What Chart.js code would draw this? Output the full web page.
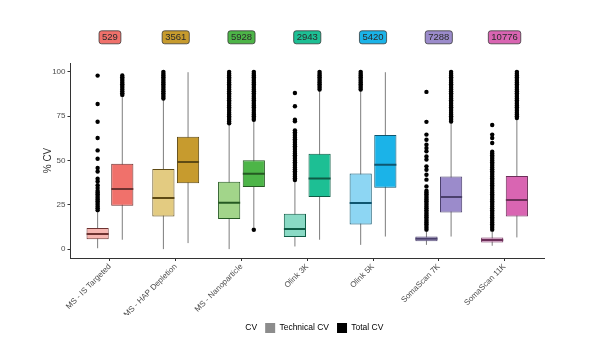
<!DOCTYPE html>
<html>
<head>
<meta charset="utf-8">
<script src="https://cdn.jsdelivr.net/npm/chart.js@4/dist/chart.umd.min.js"></script>
<style>
  html, body { margin: 0; padding: 0; background: #ffffff; }
  #wrap { width: 600px; height: 353px; }
</style>
</head>
<body>
<div id="wrap"><canvas id="c" width="600" height="353"></canvas></div>
<script>
// ---------------- data ----------------
const categories = ["MS - IS Targeted", "MS - HAP Depletion", "MS - Nanoparticle", "Olink 3K", "Olink 5K", "SomaScan 7K", "SomaScan 11K"];
const counts = [529, 3561, 5928, 2943, 5420, 7288, 10776];
const yTicks = [0, 25, 50, 75, 100];

// Technical CV box stats
const techLow  = [0.5, 0, 0, 1.5, 2.4, 2.4, 1.9];
const techQ1   = [5.6, 18.4, 17, 6.9, 13.9, 4.5, 3.7];
const techMed  = [8.6, 28.8, 26.2, 11.3, 26, 5.8, 5.1];
const techQ3   = [11.9, 45.2, 38, 19.9, 42.7, 7.1, 6.6];
const techHigh = [21, 84.4, 70.2, 38.2, 89.6, 11, 11];

// Total CV box stats
const totalLow  = [5.3, 3.4, 12.3, 5.3, 7.1, 7.1, 6.6];
const totalQ1   = [24.5, 37.1, 35, 29.4, 34.6, 20.7, 18.4];
const totalMed  = [33.9, 49.2, 42.5, 39.9, 47.6, 29.4, 27.7];
const totalQ3   = [48.2, 63.4, 50.1, 53.8, 64.4, 41, 41.2];
const totalHigh = [86.2, 99.8, 72.1, 89.6, 99.8, 71.2, 73.4];

// Outliers
const techOut = [
  [22,23,24,25,26,27,28,29,30,31,32,33,34.5,36,38.2,39.7,43.8,45.8,51,55.7,62.7,71.9,81.9,97.9],
  [85,86,87,88,89,90,91,92,93,94,95,96,97,98,99,100],
  [71,72,73,74,75,76,77,78,79,80,81,82,83,84,85,86,87,88,89,90,91,92,93,94,95,96,97,98,99,100],
  [39,40,41,42,43,44,45,46,47,48,49,50,51,52,53,54,55,56,57,58,59,60,61,62,63,64,65,66,67,72.1,73,80.6,88.1],
  [90,91,92,93,94,95,96,97,98,99,100],
  [11,12,13,14,15,16,17,18,19,20,21,22,23,24,25,26,27,28,29,30,31,32,33,35.4,39.2,42,44.8,46.7,50.5,52.3,55.2,57,58.9,61.7,64.6,71.8,88.7],
  [11,12,13,14,15,16,17,18,19,20,21,22,23,24,25,26,27,28,29,30,31,32,33,34,35,36,37,38,39,40,41,42,43,44,45,46,47,48,49,50,51,52,53,54,55,59.9,62.7,64.6,70]
];
const totalOut = [
  [87,88,89,90,91,92,93,94,95,96,97,98],
  [],
  [10.9,73,74,75,76,77,78,79,80,81,82,83,84,85,86,87,88,89,90,91,92,93,94,95,96,97,98,99,100],
  [90,91,92,93,94,95,96,97,98,99,100],
  [],
  [72,73,74,75,76,77,78,79,80,81,82,83,84,85,86,87,88,89,90,91,92,93,94,95,96,97,98,99,100],
  [74,75,76,77,78,79,80,81,82,83,84,85,86,87,88,89,90,91,92,93,94,95,96,97,98,99,100]
];

// ---------------- styles ----------------
const totalColors = ['#F0716B', '#C79B2E', '#4DB548', '#1DBF94', '#1BB3E8', '#9B8BCB', '#D965B2'];
const techColors  = ['#F6B6B1', '#E3CB81', '#A2D58A', '#8ADAC5', '#8DD6F3', '#B9AFD6', '#E3A9D1'];
const darkColors  = ['#6e3331', '#5e4a14', '#255a22', '#0f5c46', '#0e5670', '#4b406c', '#6c2f59'];

const CAT_PCT = 0.75, BAR_PCT = 0.9;
const dodge = CAT_PCT / 4;           // centre offset of each dodged box (in category units)
const FONT = '"Liberation Sans", Arial, Helvetica, sans-serif';

function boxData(q1, q3) { return categories.map((c, i) => ({ x: i + 1, y: [q1[i], q3[i]] })); }
function whiskerData(lo, hi, off) {
  const out = [];
  categories.forEach((c, i) => {
    out.push({ x: i + 1 + off, y: lo[i] }, { x: i + 1 + off, y: hi[i] }, { x: i + 1 + off, y: null });
  });
  return out;
}
function pointData(vals, off) { return categories.map((c, i) => ({ x: i + 1 + off, y: vals[i] })); }
function outlierData(lists, off) {
  const out = [];
  lists.forEach((arr, i) => arr.forEach(v => out.push({ x: i + 1 + off, y: v })));
  return out;
}

// count labels above each category
const countLabels = {
  id: 'countLabels',
  afterDraw(chart) {
    const { ctx, scales: { x } } = chart;
    ctx.save();
    ctx.font = '9.5px ' + FONT;
    ctx.textAlign = 'center';
    ctx.textBaseline = 'middle';
    counts.forEach((n, i) => {
      const cx = x.getPixelForValue(i + 1), cy = 37.3;
      const t = String(n);
      const w = ctx.measureText(t).width + 6, h = 13;
      ctx.beginPath();
      ctx.roundRect(cx - w / 2, cy - h / 2, w, h, 2.5);
      ctx.fillStyle = totalColors[i];
      ctx.fill();
      ctx.strokeStyle = 'rgba(50,50,50,0.75)';
      ctx.lineWidth = 1;
      ctx.stroke();
      ctx.fillStyle = '#2a2a2a';
      ctx.fillText(t, cx, cy + 0.5);
    });
    ctx.restore();
  }
};

const ctx = document.getElementById('c').getContext('2d');
new Chart(ctx, {
  type: 'bar',
  data: {
    datasets: [
      { type: 'line', label: 'tw', data: whiskerData(techLow, techHigh, -dodge), borderColor: '#7d7d7d', borderWidth: 1, pointRadius: 0, spanGaps: false, order: 5 },
      { type: 'line', label: 'Tw', data: whiskerData(totalLow, totalHigh, dodge), borderColor: '#7d7d7d', borderWidth: 1, pointRadius: 0, spanGaps: false, order: 5 },
      { type: 'bar', label: 'Technical CV', data: boxData(techQ1, techQ3), backgroundColor: techColors, borderColor: darkColors, borderWidth: 1, borderSkipped: false, categoryPercentage: CAT_PCT, barPercentage: BAR_PCT, order: 3 },
      { type: 'bar', label: 'Total CV', data: boxData(totalQ1, totalQ3), backgroundColor: totalColors, borderColor: darkColors, borderWidth: 1, borderSkipped: false, categoryPercentage: CAT_PCT, barPercentage: BAR_PCT, order: 3 },
      { type: 'scatter', label: 'tm', data: pointData(techMed, -dodge), pointStyle: 'line', pointRadius: 11, pointHoverRadius: 11, borderColor: darkColors, pointBorderColor: darkColors, borderWidth: 2, pointBorderWidth: 2, order: 2 },
      { type: 'scatter', label: 'Tm', data: pointData(totalMed, dodge), pointStyle: 'line', pointRadius: 11, pointHoverRadius: 11, borderColor: darkColors, pointBorderColor: darkColors, borderWidth: 2, pointBorderWidth: 2, order: 2 },
      { type: 'scatter', label: 'to', data: outlierData(techOut, -dodge), pointRadius: 2.2, backgroundColor: '#000', borderWidth: 0, order: 1 },
      { type: 'scatter', label: 'To', data: outlierData(totalOut, dodge), pointRadius: 2.2, backgroundColor: '#000', borderWidth: 0, order: 1 }
    ]
  },
  plugins: [countLabels],
  options: {
    responsive: false,
    animation: false,
    events: [],
    layout: { padding: { left: 42, right: 56, top: 63, bottom: 10 } },
    scales: {
      x: {
        type: 'linear',
        offset: false,
        min: 0.4, max: 7.6,
        afterBuildTicks: (axis) => { axis.ticks = categories.map((c, i) => ({ value: i + 1 })); },
        afterFit: (axis) => { axis.height = 57; },
        ticks: {
          autoSkip: false, minRotation: 45, maxRotation: 45, padding: 1,
          color: '#4d4d4d', font: { family: FONT, size: 8 },
          callback: (v) => categories[Math.round(v) - 1]
        },
        grid: { offset: false, drawOnChartArea: false, drawTicks: true, tickLength: 3, tickColor: '#333' },
        border: { display: true, color: '#333', width: 1 }
      },
      y: {
        type: 'linear',
        min: -5, max: 105,
        afterBuildTicks: (axis) => { axis.ticks = yTicks.map(v => ({ value: v })); },
        afterFit: (axis) => { axis.width = 28.5; },
        ticks: { color: '#4d4d4d', font: { family: FONT, size: 8 }, padding: 2 },
        grid: { drawOnChartArea: false, drawTicks: true, tickLength: 3, tickColor: '#333' },
        border: { display: true, color: '#333', width: 1 },
        title: { display: true, text: '% CV', color: '#333', font: { family: FONT, size: 10 }, padding: 0 }
      }
    },
    plugins: {
      tooltip: { enabled: false },
      legend: {
        position: 'bottom',
        fullSize: false,
        labels: {
          boxWidth: 10, boxHeight: 10, padding: 8,
          color: '#333', font: { family: FONT, size: 8.5 },
          generateLabels: () => [
            { text: 'CV', fillStyle: 'rgba(0,0,0,0)', strokeStyle: 'rgba(0,0,0,0)', lineWidth: 0, hidden: false, datasetIndex: 0 },
            { text: 'Technical CV', fillStyle: '#8c8c8c', strokeStyle: '#8c8c8c', lineWidth: 0, hidden: false, datasetIndex: 2 },
            { text: 'Total CV', fillStyle: '#000000', strokeStyle: '#000000', lineWidth: 0, hidden: false, datasetIndex: 3 }
          ]
        }
      }
    }
  }
});
</script>
</body>
</html>
